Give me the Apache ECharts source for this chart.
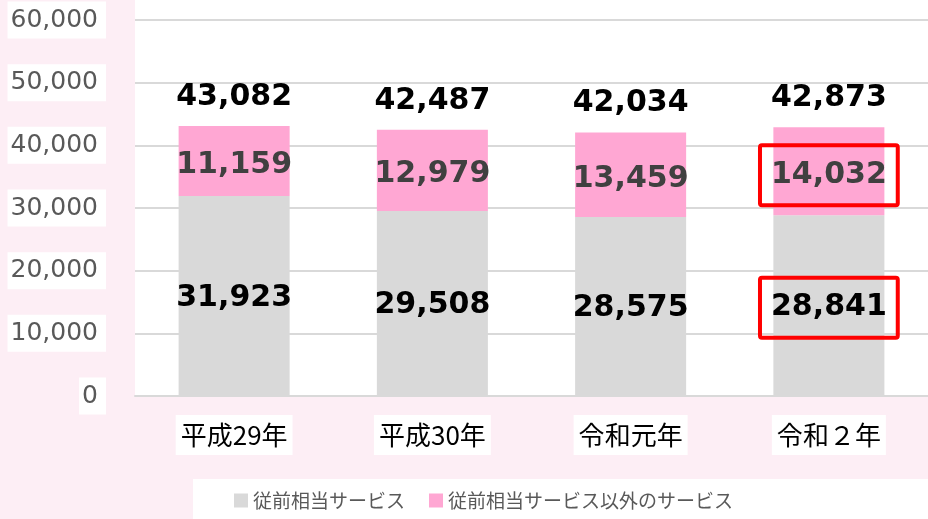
<!DOCTYPE html>
<html>
<head>
    <meta charset="utf-8">
    <title>ECharts</title>
    <script src="https://cdn.jsdelivr.net/npm/echarts@6/dist/echarts.min.js"></script>
    <style>
        html, body { margin: 0; padding: 0; background: #fdeef5; }
    </style>
</head>
<body>
    <div id="main" style="width: 928px;height:519px;"></div>
    <script type="text/javascript">
        // data
        var categories = ['平成29年', '平成30年', '令和元年', '令和２年'];
        var baseValues = [31923, 29508, 28575, 28841];
        var otherValues = [11159, 12979, 13459, 14032];
        var totals = [43082, 42487, 42034, 42873];
        var seriesNames = ['従前相当サービス', '従前相当サービス以外のサービス'];
        var yTicks = [0, 10000, 20000, 30000, 40000, 50000, 60000];

        var numFont = 'DejaVu Sans';
        var jpFont = '"Noto Sans CJK JP", sans-serif';

        function fmt(v) {
            return v.toLocaleString('en-US');
        }

        // highlight boxes on the last year
        var redBox = {
            borderColor: '#ff0000',
            borderWidth: 4,
            borderRadius: 2,
            padding: [16, 11, 14, 11]
        };
        function withBox(arr) {
            return arr.map(function (v, i) {
                if (i === arr.length - 1) {
                    return { value: v, label: redBox };
                }
                return v;
            });
        }

        var myChart = echarts.init(document.getElementById('main'));
        myChart.setOption({
            backgroundColor: '#fdeef5',
            animation: false,
            graphic: [
                { type: 'rect', left: 135, top: 0, shape: { width: 793, height: 20 }, style: { fill: '#fff' }, silent: true },
                { type: 'rect', left: 193, top: 479, shape: { width: 735, height: 40 }, style: { fill: '#fff' }, silent: true, z: -1 }
            ],
            grid: {
                left: 135, right: 0, top: 20, bottom: 123,
                show: true, backgroundColor: '#fff', borderWidth: 0
            },
            legend: {
                data: seriesNames,
                left: 229, top: 486,
                icon: 'rect',
                itemWidth: 14, itemHeight: 14,
                itemGap: 24,
                textStyle: { color: '#595959', fontSize: 19, fontFamily: jpFont }
            },
            xAxis: {
                type: 'category',
                data: categories,
                axisLine: { lineStyle: { color: '#d9d9d9', width: 2 } },
                axisTick: { show: false },
                axisLabel: {
                    color: '#000', fontSize: 26, fontFamily: jpFont,
                    backgroundColor: '#fff', padding: [7, 5, 7, 5], margin: 19
                }
            },
            yAxis: {
                type: 'value',
                min: yTicks[0], max: yTicks[yTicks.length - 1], interval: 10000,
                axisLine: { show: false },
                axisTick: { show: false },
                splitLine: { lineStyle: { color: '#d9d9d9', width: 2 } },
                axisLabel: {
                    color: '#595959', fontSize: 25, fontFamily: numFont,
                    backgroundColor: '#fff', padding: [6, 8, 6, 3], margin: 29,
                    formatter: function (v) { return fmt(v); }
                }
            },
            series: [
                {
                    name: seriesNames[0],
                    type: 'bar',
                    stack: 'total',
                    barWidth: '56%',
                    itemStyle: { color: '#d9d9d9' },
                    label: {
                        show: true, position: 'inside',
                        color: '#000', fontSize: 30, fontWeight: 'bold', fontFamily: numFont,
                        offset: [0, 2],
                        formatter: function (p) { return fmt(p.value); }
                    },
                    data: withBox(baseValues)
                },
                {
                    name: seriesNames[1],
                    type: 'bar',
                    stack: 'total',
                    itemStyle: { color: '#ffa7d3' },
                    label: {
                        show: true, position: 'inside',
                        color: '#404040', fontSize: 30, fontWeight: 'bold', fontFamily: numFont,
                        offset: [0, 4],
                        formatter: function (p) { return fmt(p.value); }
                    },
                    data: withBox(otherValues)
                },
                {
                    name: '合計',
                    type: 'bar',
                    barGap: '-100%',
                    barWidth: '56%',
                    itemStyle: { color: 'rgba(0,0,0,0)' },
                    silent: true,
                    z: 1,
                    label: {
                        show: true, position: 'top', distance: 14,
                        color: '#000', fontSize: 30, fontWeight: 'bold', fontFamily: numFont,
                        formatter: function (p) { return fmt(p.value); }
                    },
                    data: totals
                }
            ]
        });
    </script>
</body>
</html>
